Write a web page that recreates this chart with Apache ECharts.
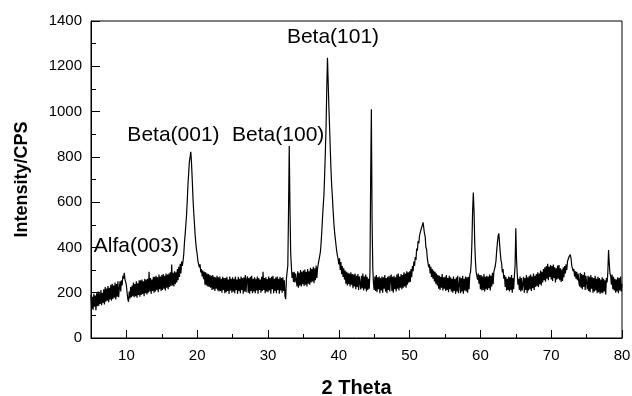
<!DOCTYPE html>
<html>
<head>
<meta charset="utf-8">
<script src="https://cdn.jsdelivr.net/npm/echarts@6/dist/echarts.min.js"></script>
<style>
  html, body { margin: 0; padding: 0; background: #fff; }
  #main { width: 632px; height: 396px; }
</style>
</head>
<body>
<div id="main"></div>
<script>
// scan: 2 theta from 5 to 80 deg, one reading every 0.1 deg
var thetaStart = 5;
var thetaStep = 0.1;
var intensity = [
  190, 128, 182, 125, 195, 138, 188, 122, 198, 140, // 5
  205, 142, 198, 150, 212, 145, 200, 155, 215, 148, // 6
  225, 160, 218, 165, 230, 158, 222, 170, 235, 165, // 7
  240, 172, 232, 178, 245, 170, 238, 182, 250, 180, // 8
  218, 250, 205, 255, 232, 275, 262, 288, 258, 248, // 9
  232, 200, 172, 160, 205, 175, 225, 180, 232, 185, // 10
  245, 180, 238, 185, 250, 178, 242, 190, 255, 182, // 11
  255, 190, 258, 195, 250, 185, 262, 198, 258, 192, // 12
  262, 200, 292, 205, 265, 195, 258, 208, 270, 200, // 13
  270, 205, 275, 212, 268, 202, 280, 215, 272, 208, // 14
  278, 212, 282, 218, 275, 210, 285, 222, 280, 215, // 15
  285, 225, 290, 230, 325, 232, 288, 228, 295, 238, // 16
  290, 245, 305, 255, 315, 270, 328, 285, 338, 318, // 17
  340, 370, 420, 460, 500, 545, 610, 680, 730, 780, // 18
  800, 822, 770, 700, 620, 560, 510, 460, 420, 390, // 19
  370, 340, 345, 312, 325, 290, 305, 272, 298, 260, // 20
  292, 235, 290, 232, 285, 228, 282, 225, 278, 222, // 21
  275, 212, 278, 215, 270, 208, 268, 218, 275, 210, // 22
  268, 205, 272, 208, 262, 200, 270, 212, 265, 198, // 23
  265, 202, 270, 208, 258, 195, 272, 210, 262, 200, // 24
  268, 205, 262, 198, 272, 212, 258, 195, 270, 208, // 25
  262, 198, 272, 212, 265, 195, 268, 205, 278, 202, // 26
  258, 272, 200, 265, 195, 270, 208, 275, 198, 262, // 27
  205, 268, 198, 262, 210, 272, 195, 265, 212, 258, // 28
  200, 270, 208, 293, 212, 265, 198, 268, 205, 260, // 29
  202, 272, 210, 265, 195, 270, 215, 275, 198, 262, // 30
  208, 268, 198, 272, 212, 262, 195, 270, 210, 265, // 31
  200, 268, 208, 255, 185, 172, 262, 270, 320, 560, // 32
  848, 580, 380, 315, 265, 290, 248, 292, 245, 285, // 33
  290, 228, 295, 222, 288, 232, 300, 228, 292, 238, // 34
  298, 230, 302, 235, 292, 228, 305, 240, 295, 235, // 35
  310, 245, 305, 250, 315, 242, 308, 255, 320, 265, // 36
  305, 328, 330, 362, 380, 420, 470, 530, 585, 630, // 37
  720, 820, 930, 1100, 1238, 1130, 1020, 930, 830, 740, // 38
  670, 620, 560, 510, 470, 440, 412, 385, 365, 350, // 39
  325, 352, 300, 335, 282, 318, 270, 308, 258, 298, // 40
  240, 292, 232, 288, 238, 285, 228, 290, 235, 282, // 41
  220, 280, 228, 285, 215, 275, 225, 282, 212, 272, // 42
  278, 215, 275, 220, 285, 210, 272, 218, 280, 205, // 43
  270, 212, 262, 218, 290, 700, 1010, 520, 310, 240, // 44
  212, 272, 208, 278, 202, 268, 215, 272, 198, 265, // 45
  210, 272, 200, 268, 218, 278, 205, 265, 198, 270, // 46
  212, 275, 205, 265, 280, 208, 270, 200, 275, 215, // 47
  268, 205, 280, 218, 285, 210, 272, 222, 282, 215, // 48
  278, 222, 290, 228, 285, 222, 295, 235, 290, 245, // 49
  295, 248, 305, 268, 318, 295, 338, 318, 358, 345, // 50
  395, 385, 428, 418, 452, 448, 478, 470, 498, 511, // 51
  505, 462, 448, 402, 392, 352, 348, 312, 325, 285, // 52
  315, 270, 305, 262, 298, 250, 292, 240, 285, 232, // 53
  278, 218, 275, 212, 270, 222, 282, 210, 268, 218, // 54
  270, 208, 278, 212, 265, 202, 275, 215, 268, 205, // 55
  262, 200, 272, 208, 260, 195, 268, 205, 275, 198, // 56
  205, 270, 198, 265, 205, 275, 195, 262, 210, 272, // 57
  205, 268, 200, 270, 215, 280, 290, 330, 420, 560, // 58
  643, 560, 420, 340, 292, 300, 258, 285, 240, 278, // 59
  215, 278, 210, 272, 212, 282, 205, 270, 215, 275, // 60
  212, 272, 220, 280, 210, 275, 228, 288, 238, 292, // 61
  290, 318, 340, 385, 420, 450, 462, 420, 380, 345, // 62
  330, 290, 305, 262, 278, 225, 270, 210, 262, 212, // 63
  272, 205, 268, 212, 278, 200, 265, 215, 275, 320, // 64
  485, 350, 285, 235, 262, 212, 272, 205, 265, 210, // 65
  205, 270, 200, 265, 212, 278, 198, 268, 210, 275, // 66
  215, 280, 208, 272, 220, 285, 212, 275, 225, 282, // 67
  230, 290, 225, 285, 238, 298, 232, 292, 245, 305, // 68
  255, 312, 248, 318, 262, 328, 255, 315, 270, 322, // 69
  258, 318, 252, 325, 265, 312, 245, 308, 258, 320, // 70
  262, 322, 255, 308, 248, 302, 252, 312, 268, 318, // 71
  285, 325, 300, 338, 335, 358, 360, 368, 352, 320, // 72
  318, 295, 305, 272, 295, 262, 292, 255, 285, 248, // 73
  228, 288, 222, 282, 215, 278, 225, 290, 212, 275, // 74
  280, 215, 275, 208, 270, 202, 278, 218, 268, 200, // 75
  265, 205, 275, 210, 262, 198, 270, 202, 265, 195, // 76
  258, 200, 268, 198, 262, 205, 255, 192, 265, 245, // 77
  290, 389, 330, 285, 275, 235, 280, 215, 270, 210, // 78
  262, 200, 258, 205, 268, 198, 265, 210, 272, 205, // 79
  240                                               // 80
];

// peak labels
var peakNames = ['Alfa(003)', 'Beta(001)', 'Beta(100)', 'Beta(101)'];
var peakLabelX = [11.4, 16.65, 31.44, 39.18];
var peakLabelY = [406, 895, 895, 1327];

// axis ticks
var xMajorTicks = [10, 20, 30, 40, 50, 60, 70, 80];
var xMinorTicks = [15, 25, 35, 45, 55, 65, 75];

var lineData = intensity.map(function (v, i) {
  return [+(thetaStart + i * thetaStep).toFixed(1), v];
});
var labelData = peakNames.map(function (n, i) {
  return { name: n, value: [peakLabelX[i], peakLabelY[i]] };
});

var font = '"Liberation Sans", Arial, Helvetica, sans-serif';

var myChart = echarts.init(document.getElementById('main'));
myChart.setOption({
  animation: false,
  grid: {
    left: 91, top: 21, right: 10, bottom: 58,
    outerBoundsMode: 'none',
    containLabel: false,
    show: true,
    borderColor: '#000',
    borderWidth: 1
  },
  xAxis: [{
    type: 'value',
    position: 'bottom',
    min: 5,
    max: 80,
    name: '2 Theta',
    nameLocation: 'middle',
    nameGap: 40,
    nameTextStyle: { fontFamily: font, fontSize: 20, fontWeight: 'bold', color: '#000' },
    axisLine: { lineStyle: { color: '#000', width: 1 } },
    axisTick: { inside: true, length: 8, customValues: xMajorTicks, lineStyle: { color: '#000' } },
    axisLabel: { customValues: xMajorTicks, margin: 10, fontFamily: font, fontSize: 15, color: '#000' },
    splitLine: { show: false }
  }, {
    type: 'value',
    position: 'bottom',
    min: 5,
    max: 80,
    axisLine: { show: false },
    axisTick: { inside: true, length: 4, customValues: xMinorTicks, lineStyle: { color: '#000' } },
    axisLabel: { show: false },
    splitLine: { show: false }
  }],
  yAxis: {
    type: 'value',
    min: 0,
    max: 1400,
    interval: 200,
    name: 'Intensity/CPS',
    nameLocation: 'middle',
    nameGap: 60,
    nameTextStyle: { fontFamily: font, fontSize: 18, fontWeight: 'bold', color: '#000' },
    axisLine: { show: true, lineStyle: { color: '#000', width: 1 } },
    axisTick: { show: true, inside: true, length: 9, lineStyle: { color: '#000' } },
    minorTick: { show: true, splitNumber: 2, length: 5, lineStyle: { color: '#000' } },
    axisLabel: {
      margin: 9, fontFamily: font, fontSize: 15, color: '#000',
      formatter: function (v) { return String(v); }
    },
    splitLine: { show: false }
  },
  series: [{
    name: 'XRD',
    type: 'line',
    data: lineData,
    showSymbol: false,
    symbol: 'none',
    lineStyle: { color: '#000', width: 1.2 },
    z: 2
  }, {
    name: 'peaks',
    type: 'scatter',
    data: labelData,
    symbolSize: 0,
    itemStyle: { opacity: 1 },
    label: {
      show: true,
      position: 'inside',
      formatter: '{b}',
      fontFamily: font,
      fontSize: 21,
      color: '#000',
      opacity: 1
    },
    z: 3
  }]
});
</script>
</body>
</html>
